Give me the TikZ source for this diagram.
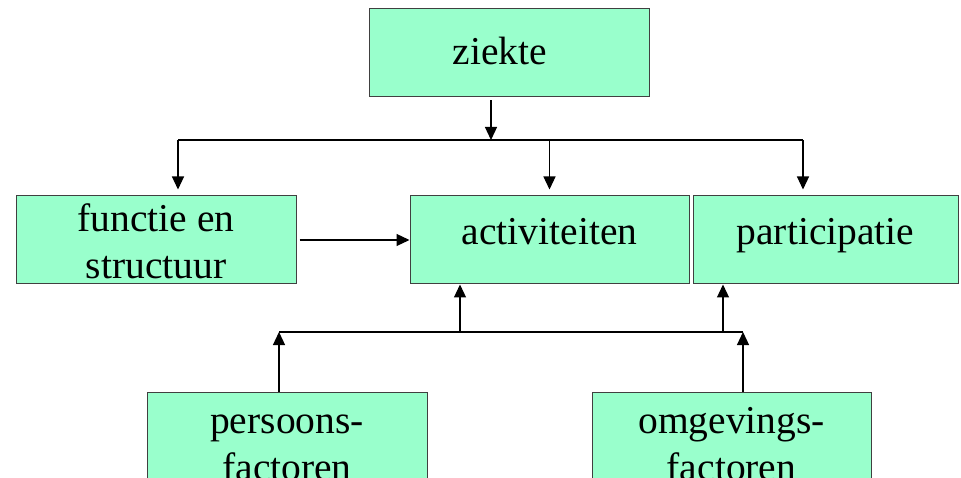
\documentclass[tikz,border=0pt]{standalone}
\usepackage{fontspec}
\setmainfont{Liberation Serif}
\usetikzlibrary{arrows.meta}
\definecolor{boxGreen}{HTML}{99FFCC}
\definecolor{boxBorder}{HTML}{404040}
\begin{document}
\begin{tikzpicture}
[x=1pt,y=-1pt,
 boxDecorate/.style={shape=rectangle,draw=boxBorder,fill=boxGreen,line width=1pt,
   inner sep=0pt,minimum height=88pt,align=center,
   font=\fontsize{39.5}{47}\selectfont},
 lineDecorate/.style={-{Triangle[width=12pt,length=13pt]},line width=1.2pt},
 busDecorate/.style={-,line width=1.2pt}]
\useasboundingbox (0,0) rectangle (961,478);
%% boxes
\node (ziekte) at (509,53) [boxDecorate,minimum width=280pt,text height=24pt,text depth=0pt] {ziekte\hspace*{18pt}};
\node (functie) at (156,240) [boxDecorate,minimum width=280pt,text height=78pt,text depth=0pt] {functie en\\structuur};
\node (activ) at (549.5,240) [boxDecorate,minimum width=279pt,text height=20pt,text depth=10pt] {activiteiten};
\node (partic) at (825.5,240) [boxDecorate,minimum width=265pt,text height=20pt,text depth=10pt] {participatie};
\node (persoon) at (287,436) [boxDecorate,minimum width=280pt,text height=88pt,text depth=0pt] {persoons-\\factoren};
\node (omgeving) at (731.5,436) [boxDecorate,minimum width=279pt,text height=88pt,text depth=0pt] {omgevings-\\factoren};
%% junctions
\coordinate (topMid) at (491,140);
\coordinate (topLeft) at (178,140);
\coordinate (topRight) at (803,140);
\coordinate (lowLeft) at (279,332);
\coordinate (lowRight) at (743,332);
\coordinate (activIn) at (460,332);
\coordinate (particIn) at (723,332);
%% lines from ziekte
\draw[lineDecorate,shorten <=3pt] (ziekte.south -| topMid) -- (topMid);
\draw[busDecorate] (topLeft) -- (topRight);
\path
\foreach \startnode/\endnode in {topLeft/functie, topRight/partic} {
  (\startnode) edge[lineDecorate,shorten >=6pt] (\startnode |- \endnode.north)
};
\draw[lineDecorate,shorten >=6pt] (activ.north |- topLeft) -- (activ.north);
%% functie to activiteiten
\draw[lineDecorate,shorten <=3pt] (functie.east) -- (activ.west);
%% lines from the factors
\draw[busDecorate] (lowLeft) -- (lowRight);
\path
\foreach \startnode/\endnode in {persoon/lowLeft, omgeving/lowRight} {
  (\startnode.north -| \endnode) edge[lineDecorate] (\endnode)
};
\path
\foreach \startnode/\endnode in {activIn/activ, particIn/partic} {
  (\startnode) edge[lineDecorate] (\startnode |- \endnode.south)
};
\end{tikzpicture}
\end{document}
